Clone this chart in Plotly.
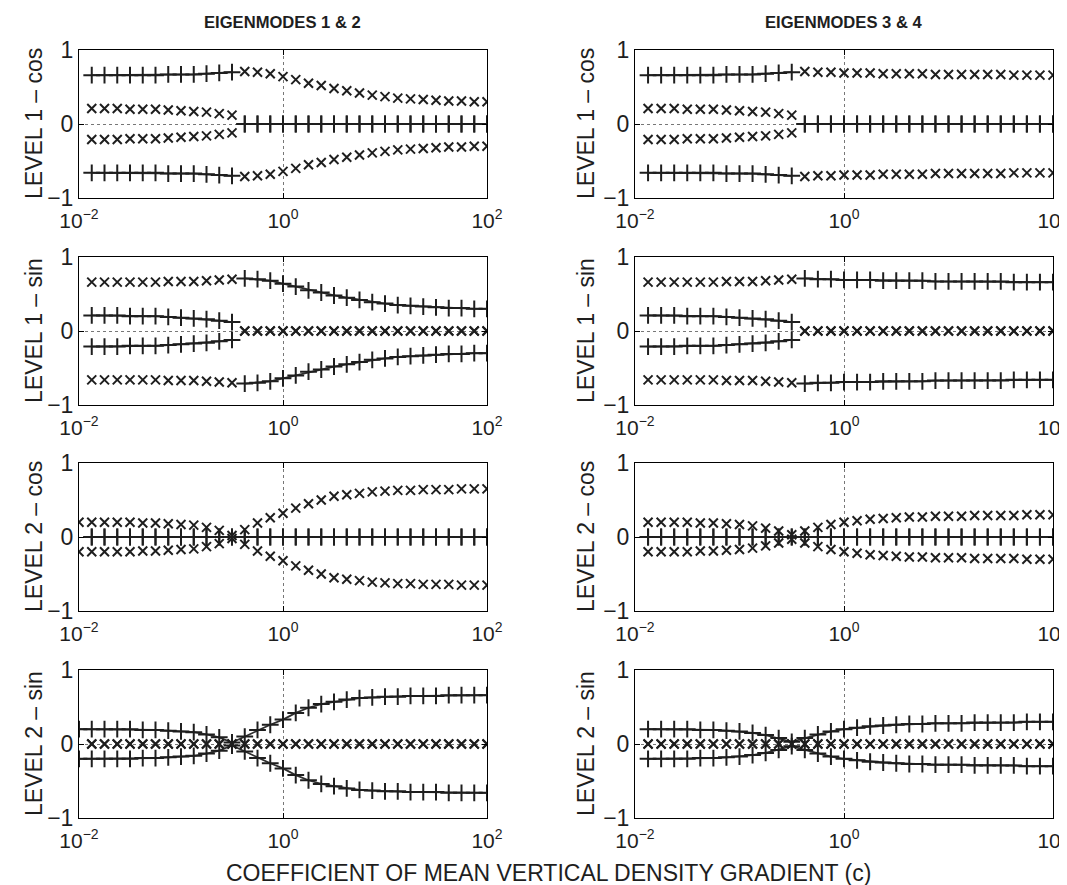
import plotly.graph_objects as go
from plotly.subplots import make_subplots

# ---------------- data ----------------
# log10 of the coefficient c (x positions of the computed points)
LOG10_C = [-2.0, -1.875, -1.75, -1.625, -1.5, -1.375, -1.25, -1.125, -1.0,
           -0.875, -0.75, -0.625, -0.5, -0.375, -0.25, -0.125, 0.0,
           0.125, 0.25, 0.375, 0.5, 0.625, 0.75, 0.875, 1.0,
           1.125, 1.25, 1.375, 1.5, 1.625, 1.75, 1.875, 2.0]
N = None

# ---- Eigenmodes 1 & 2 ----
M12_L1COS_PLUS_A = [N, 0.66, 0.66, 0.66, 0.66, 0.66, 0.66, 0.67, 0.67, 0.67, 0.68, 0.69, 0.70] + [N] * 20
M12_L1COS_PLUS_B = [N] * 13 + [0.0] * 20
M12_L1COS_X = [N, 0.21, 0.21, 0.21, 0.20, 0.20, 0.20, 0.19, 0.18, 0.17, 0.16, 0.14, 0.12,
               0.71, 0.70, 0.68, 0.64, 0.60, 0.55, 0.52, 0.48, 0.45, 0.42, 0.39, 0.37,
               0.35, 0.34, 0.33, 0.32, 0.31, 0.31, 0.30, 0.30]

M12_L1SIN_PLUS_A = [N, 0.21, 0.21, 0.21, 0.20, 0.20, 0.20, 0.19, 0.18, 0.17, 0.16, 0.14, 0.12] + [N] * 20
M12_L1SIN_PLUS_B = [N] * 13 + [0.71, 0.70, 0.68, 0.64, 0.60, 0.55, 0.52, 0.48, 0.45, 0.42, 0.39, 0.37,
                               0.35, 0.34, 0.33, 0.32, 0.31, 0.31, 0.30, 0.30]
M12_L1SIN_X = [N, 0.66, 0.66, 0.66, 0.66, 0.66, 0.66, 0.67, 0.67, 0.67, 0.68, 0.69, 0.70] + [0.0] * 20

M12_L2COS_PLUS = [N] + [0.0] * 32
M12_L2COS_X = [0.20, 0.20, 0.20, 0.20, 0.20, 0.19, 0.19, 0.18, 0.17, 0.16, 0.13, 0.09, 0.02,
               0.10, 0.19, 0.26, 0.32, 0.39, 0.45, 0.50, 0.55, 0.57, 0.59, 0.61, 0.62,
               0.63, 0.63, 0.64, 0.64, 0.64, 0.65, 0.65, 0.65]

M12_L2SIN_PLUS = [0.20, 0.20, 0.20, 0.20, 0.20, 0.19, 0.19, 0.18, 0.17, 0.16, 0.13, 0.09, 0.02,
                  0.10, 0.19, 0.26, 0.33, 0.42, 0.49, 0.54, 0.57, 0.60, 0.62, 0.63, 0.64,
                  0.64, 0.65, 0.65, 0.65, 0.66, 0.66, 0.66, 0.66]
M12_L2SIN_X = [N] + [0.0] * 32

# ---- Eigenmodes 3 & 4 ----
M34_L1COS_PLUS_A = [N, 0.66, 0.66, 0.66, 0.66, 0.66, 0.66, 0.67, 0.67, 0.67, 0.68, 0.69, 0.70] + [N] * 20
M34_L1COS_PLUS_B = [N] * 13 + [0.0] * 20
M34_L1COS_X = [N, 0.21, 0.21, 0.21, 0.20, 0.20, 0.20, 0.19, 0.18, 0.17, 0.16, 0.14, 0.12,
               0.71, 0.70, 0.70, 0.69, 0.69, 0.69, 0.68, 0.68, 0.68, 0.68, 0.67, 0.67,
               0.67, 0.67, 0.67, 0.67, 0.66, 0.66, 0.66, 0.66]

M34_L1SIN_PLUS_A = [N, 0.21, 0.21, 0.21, 0.20, 0.20, 0.20, 0.19, 0.18, 0.17, 0.16, 0.14, 0.12] + [N] * 20
M34_L1SIN_PLUS_B = [N] * 13 + [0.71, 0.70, 0.70, 0.69, 0.69, 0.69, 0.68, 0.68, 0.68, 0.68, 0.67, 0.67,
                               0.67, 0.67, 0.67, 0.67, 0.66, 0.66, 0.66, 0.66]
M34_L1SIN_X = [N, 0.66, 0.66, 0.66, 0.66, 0.66, 0.66, 0.67, 0.67, 0.67, 0.68, 0.69, 0.70] + [0.0] * 20

M34_L2COS_PLUS = [N] + [0.0] * 32
M34_L2COS_X = [N, 0.20, 0.20, 0.20, 0.20, 0.19, 0.19, 0.18, 0.17, 0.15, 0.12, 0.08, 0.03,
               0.08, 0.13, 0.17, 0.20, 0.22, 0.24, 0.25, 0.26, 0.27, 0.27, 0.28, 0.28,
               0.28, 0.29, 0.29, 0.29, 0.29, 0.30, 0.30, 0.30]

M34_L2SIN_PLUS = [N, 0.20, 0.20, 0.20, 0.20, 0.19, 0.19, 0.18, 0.17, 0.15, 0.12, 0.08, 0.03,
                  0.08, 0.13, 0.17, 0.20, 0.22, 0.24, 0.25, 0.26, 0.27, 0.27, 0.28, 0.28,
                  0.28, 0.29, 0.29, 0.29, 0.29, 0.30, 0.30, 0.30]
M34_L2SIN_X = [N] + [0.0] * 32

ROW_LABELS = ["LEVEL 1 – cos", "LEVEL 1 – sin", "LEVEL 2 – cos", "LEVEL 2 – sin"]
COL_TITLES = ["EIGENMODES 1 &amp; 2", "EIGENMODES 3 &amp; 4"]
X_TITLE = "COEFFICIENT OF MEAN VERTICAL DENSITY GRADIENT (c)"
X_TICKVALS = [0.01, 1, 100]
X_EXPONENTS = ["−2", "0", "2"]
Y_TICKVALS = [-1, 0, 1]
Y_TICKTEXT = ["−1", "0", "1"]

PANELS = {
    (1, 1): ([M12_L1COS_PLUS_A, M12_L1COS_PLUS_B], [M12_L1COS_X]),
    (2, 1): ([M12_L1SIN_PLUS_A, M12_L1SIN_PLUS_B], [M12_L1SIN_X]),
    (3, 1): ([M12_L2COS_PLUS], [M12_L2COS_X]),
    (4, 1): ([M12_L2SIN_PLUS], [M12_L2SIN_X]),
    (1, 2): ([M34_L1COS_PLUS_A, M34_L1COS_PLUS_B], [M34_L1COS_X]),
    (2, 2): ([M34_L1SIN_PLUS_A, M34_L1SIN_PLUS_B], [M34_L1SIN_X]),
    (3, 2): ([M34_L2COS_PLUS], [M34_L2COS_X]),
    (4, 2): ([M34_L2SIN_PLUS], [M34_L2SIN_X]),
}

# ---------------- figure ----------------
W, H = 1067, 885
FONT = "Liberation Sans, Arial, Helvetica, sans-serif"
INK = "#1e1e1e"

c_vals = [10 ** e for e in LOG10_C]
x_ticktext = ['10<sup><span style="font-size:14px">%s</span></sup>' % e for e in X_EXPONENTS]

fig = make_subplots(rows=4, cols=2)


def neg(vals):
    return [None if v is None else -v for v in vals]


for (r, col), (plus_sets, x_sets) in PANELS.items():
    for vals in plus_sets:
        for v in (vals, neg(vals)):
            fig.add_trace(go.Scatter(
                x=c_vals, y=v, mode="lines+markers", connectgaps=False,
                line=dict(color="#2e2e2e", width=1.8),
                marker=dict(symbol="cross-thin", size=12,
                            line=dict(color=INK, width=2)),
                showlegend=False, hoverinfo="skip"), row=r, col=col)
    for vals in x_sets:
        for v in (vals, neg(vals)):
            fig.add_trace(go.Scatter(
                x=c_vals, y=v, mode="markers",
                marker=dict(symbol="x-thin", size=9,
                            line=dict(color=INK, width=2)),
                showlegend=False, hoverinfo="skip"), row=r, col=col)

# panel geometry in pixels
COL_X = [(71, 479), (627, 1045)]
ROW_Y = [(42, 190), (249, 397), (455, 603), (662, 810)]

annotations = []
for r in range(4):
    for c in range(2):
        n = r * 2 + c + 1
        sfx = "" if n == 1 else str(n)
        x0, x1 = COL_X[c]
        y0, y1 = ROW_Y[r]
        fig.layout["xaxis" + sfx].update(
            domain=[x0 / W, x1 / W], type="log", range=[-2, 2],
            tickvals=X_TICKVALS, ticktext=x_ticktext, automargin=False,
            ticks="inside", ticklen=5, tickcolor="black", tickwidth=1,
            ticklabelstandoff=4,
            showline=True, linecolor="black", linewidth=1, mirror="ticks",
            showgrid=True, gridcolor="#777777", griddash="dot", gridwidth=1,
            zeroline=False,
            tickfont=dict(family=FONT, size=21, color=INK))
        fig.layout["yaxis" + sfx].update(
            domain=[1 - y1 / H, 1 - y0 / H], range=[-1, 1],
            tickvals=Y_TICKVALS, ticktext=Y_TICKTEXT, automargin=False,
            ticks="inside", ticklen=5, tickcolor="black", tickwidth=1,
            showline=True, linecolor="black", linewidth=1, mirror="ticks",
            showgrid=True, gridcolor="#777777", griddash="dot", gridwidth=1,
            zeroline=False,
            tickfont=dict(family=FONT, size=23, color=INK))
        annotations.append(dict(
            text=ROW_LABELS[r], xref="paper", yref="paper",
            x=(26 if c == 0 else 578) / W, y=1 - ((y0 + y1) / 2) / H,
            xanchor="center", yanchor="middle", textangle=-90, showarrow=False,
            font=dict(family=FONT, size=23, color=INK)))

for c in range(2):
    x0, x1 = COL_X[c]
    annotations.append(dict(
        text="<b>" + COL_TITLES[c] + "</b>", xref="paper", yref="paper",
        x=((x0 + x1) / 2) / W, y=1 - 15 / H, xanchor="center", yanchor="middle",
        showarrow=False, font=dict(family=FONT, size=16.6, color=INK)))

annotations.append(dict(
    text=X_TITLE, xref="paper", yref="paper", x=540 / W, y=1 - 865 / H,
    xanchor="center", yanchor="middle", showarrow=False,
    font=dict(family=FONT, size=23, color=INK)))

fig.update_layout(
    width=W, height=H, margin=dict(l=0, r=0, t=0, b=0, autoexpand=False),
    paper_bgcolor="white", plot_bgcolor="white",
    annotations=annotations, showlegend=False)

fig.write_html("out.html")
